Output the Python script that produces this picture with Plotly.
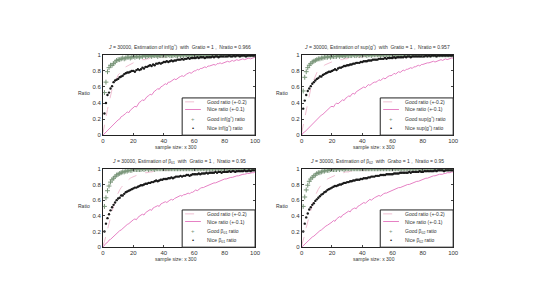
"""
plot.py
Four panels: proportion of good / nice estimates against sample size (x 300).
"""

import plotly.graph_objects as go

W, H = 550, 300

x_line = list(range(0, 101))
x_mark = list(range(1, 101))

x_ticks = [0, 20, 40, 60, 80, 100]
y_ticks = [0, 0.2, 0.4, 0.6, 0.8, 1]
y_tick_text = ["0", "0.2", "0.4", "0.6", "0.8", "1"]

titles = [
    "<i>J</i> = 30000, Estimation of inf(g<sup>^</sup>)  with  Gratio = 1 ,  Nratio = 0.966",
    "<i>J</i> = 30000, Estimation of sup(g<sup>^</sup>)  with  Gratio = 1 ,  Nratio = 0.957",
    "<i>J</i> = 30000, Estimation of β<sub>01</sub>  with  Gratio = 1 ,  Nratio = 0.95",
    "<i>J</i> = 30000, Estimation of β<sub>02</sub>  with  Grabo = 1 ,  Nratio = 0.95",
]
est_names = ["inf(g<sup>^</sup>)", "sup(g<sup>^</sup>)", "β<sub>01</sub>", "β<sub>02</sub>"]

# ---------- panel 1 : inf(g) ----------
good_line_1 = [
    0.02, 0.10, 0.22, 0.32, 0.42, 0.50, 0.57, 0.62, 0.67, 0.71,
    0.75, 0.77, 0.80, 0.81, 0.84, 0.85, 0.86, 0.88, 0.88, 0.89,
    0.90, 0.91, 0.91, 0.92, 0.93, 0.93, 0.94, 0.94, 0.94, 0.95,
    0.95, 0.96, 0.95, 0.96, 0.96, 0.97, 0.96, 0.97, 0.97, 0.97,
    0.97, 0.98, 0.97, 0.98, 0.98, 0.98, 0.98, 0.98, 0.99, 0.98,
    0.99, 0.98, 0.99, 0.99, 0.99, 0.99, 0.99, 0.99, 0.99, 0.99,
    0.99, 0.99, 1.00, 0.99, 0.99, 1.00, 0.99, 1.00, 1.00, 0.99,
    1.00, 1.00, 0.99, 1.00, 1.00, 1.00, 1.00, 0.99, 1.00, 1.00,
    1.00, 1.00, 1.00, 1.00, 1.00, 1.00, 1.00, 1.00, 1.00, 1.00,
    1.00, 1.00, 1.00, 1.00, 1.00, 1.00, 1.00, 1.00, 1.00, 1.00, 1.00,
]
nice_line_1 = [
    0.00, 0.02, 0.04, 0.05, 0.08, 0.09, 0.12, 0.13, 0.15, 0.18,
    0.19, 0.20, 0.23, 0.24, 0.25, 0.27, 0.29, 0.28, 0.31, 0.33,
    0.34, 0.36, 0.35, 0.38, 0.41, 0.42, 0.44, 0.43, 0.46, 0.48,
    0.49, 0.51, 0.50, 0.53, 0.55, 0.56, 0.58, 0.57, 0.60, 0.61,
    0.62, 0.64, 0.63, 0.66, 0.66, 0.67, 0.69, 0.70, 0.69, 0.71,
    0.72, 0.73, 0.74, 0.73, 0.75, 0.76, 0.77, 0.78, 0.77, 0.79,
    0.80, 0.80, 0.82, 0.81, 0.83, 0.83, 0.84, 0.85, 0.84, 0.86,
    0.86, 0.87, 0.87, 0.88, 0.87, 0.89, 0.89, 0.90, 0.89, 0.90,
    0.91, 0.91, 0.92, 0.91, 0.92, 0.93, 0.92, 0.93, 0.94, 0.93,
    0.94, 0.94, 0.95, 0.94, 0.95, 0.95, 0.96, 0.95, 0.96, 0.96, 0.97,
]
good_mark_1 = [
    0.53, 0.66, 0.79, 0.84, 0.87, 0.87, 0.89, 0.91, 0.93, 0.94,
    0.94, 0.95, 0.96, 0.95, 0.96, 0.97, 0.97, 0.96, 0.97, 0.98,
    0.97, 0.98, 0.98, 0.97, 0.98, 0.98, 0.99, 0.98, 0.98, 0.99,
    0.99, 0.98, 0.99, 0.99, 0.99, 0.98, 0.99, 0.99, 0.99, 0.99,
    0.99, 0.99, 1.00, 0.99, 0.99, 0.99, 1.00, 0.99, 0.99, 1.00,
    0.99, 1.00, 0.99, 1.00, 1.00, 0.99, 1.00, 1.00, 0.99, 1.00,
    1.00, 1.00, 0.99, 1.00, 1.00, 1.00, 1.00, 1.00, 0.99, 1.00,
    1.00, 1.00, 1.00, 1.00, 1.00, 1.00, 1.00, 1.00, 1.00, 1.00,
    1.00, 1.00, 1.00, 1.00, 1.00, 1.00, 1.00, 1.00, 1.00, 1.00,
    1.00, 1.00, 1.00, 1.00, 1.00, 1.00, 1.00, 1.00, 1.00, 1.00,
]
nice_mark_1 = [
    0.27, 0.40, 0.50, 0.53, 0.58, 0.61, 0.66, 0.68, 0.69, 0.70,
    0.72, 0.73, 0.74, 0.76, 0.77, 0.78, 0.78, 0.79, 0.80, 0.80,
    0.79, 0.81, 0.82, 0.81, 0.82, 0.84, 0.83, 0.85, 0.85, 0.86,
    0.87, 0.86, 0.88, 0.87, 0.89, 0.89, 0.90, 0.89, 0.90, 0.91,
    0.91, 0.92, 0.91, 0.92, 0.93, 0.92, 0.93, 0.93, 0.94, 0.94,
    0.94, 0.95, 0.94, 0.95, 0.95, 0.96, 0.95, 0.96, 0.96, 0.96,
    0.96, 0.97, 0.96, 0.97, 0.97, 0.97, 0.96, 0.97, 0.97, 0.97,
    0.97, 0.98, 0.97, 0.98, 0.98, 0.97, 0.98, 0.98, 0.98, 0.98,
    0.98, 0.98, 0.99, 0.98, 0.98, 0.99, 0.98, 0.99, 0.99, 0.98,
    0.99, 0.99, 0.99, 0.98, 0.99, 0.99, 0.99, 0.99, 0.99, 0.99,
]

# ---------- panel 2 : sup(g) ----------
good_line_2 = [
    0.03, 0.12, 0.24, 0.34, 0.43, 0.51, 0.58, 0.64, 0.69, 0.74,
    0.78, 0.80, 0.82, 0.84, 0.86, 0.87, 0.88, 0.89, 0.90, 0.90,
    0.91, 0.92, 0.92, 0.93, 0.93, 0.94, 0.94, 0.94, 0.95, 0.95,
    0.95, 0.96, 0.96, 0.96, 0.96, 0.97, 0.97, 0.97, 0.97, 0.97,
    0.97, 0.98, 0.98, 0.98, 0.98, 0.98, 0.98, 0.99, 0.98, 0.99,
    0.99, 0.99, 0.98, 0.99, 0.99, 0.99, 0.99, 0.99, 0.99, 0.99,
    0.99, 1.00, 0.99, 0.99, 1.00, 0.99, 1.00, 1.00, 0.99, 1.00,
    1.00, 1.00, 1.00, 0.99, 1.00, 1.00, 1.00, 1.00, 1.00, 1.00,
    1.00, 1.00, 1.00, 1.00, 1.00, 1.00, 1.00, 1.00, 1.00, 1.00,
    1.00, 1.00, 1.00, 1.00, 1.00, 1.00, 1.00, 1.00, 1.00, 1.00, 1.00,
]
nice_line_2 = [
    0.00, 0.03, 0.04, 0.06, 0.08, 0.10, 0.12, 0.14, 0.15, 0.18,
    0.20, 0.21, 0.23, 0.25, 0.26, 0.28, 0.30, 0.31, 0.33, 0.35,
    0.36, 0.35, 0.38, 0.40, 0.39, 0.41, 0.43, 0.44, 0.43, 0.46,
    0.47, 0.49, 0.48, 0.51, 0.52, 0.51, 0.54, 0.55, 0.56, 0.57,
    0.58, 0.60, 0.59, 0.61, 0.63, 0.62, 0.64, 0.65, 0.66, 0.66,
    0.67, 0.69, 0.68, 0.70, 0.71, 0.70, 0.72, 0.73, 0.74, 0.74,
    0.75, 0.77, 0.76, 0.78, 0.79, 0.78, 0.80, 0.81, 0.80, 0.82,
    0.82, 0.83, 0.84, 0.83, 0.85, 0.85, 0.86, 0.87, 0.86, 0.88,
    0.88, 0.89, 0.89, 0.90, 0.90, 0.91, 0.91, 0.92, 0.91, 0.92,
    0.93, 0.93, 0.94, 0.93, 0.94, 0.95, 0.94, 0.95, 0.95, 0.96, 0.96,
]
good_mark_2 = [
    0.55, 0.72, 0.79, 0.84, 0.87, 0.89, 0.91, 0.92, 0.93, 0.94,
    0.95, 0.95, 0.96, 0.96, 0.97, 0.97, 0.97, 0.98, 0.97, 0.98,
    0.98, 0.98, 0.98, 0.99, 0.98, 0.99, 0.99, 0.98, 0.99, 0.99,
    0.99, 0.99, 0.99, 1.00, 0.99, 0.99, 1.00, 0.99, 1.00, 0.99,
    1.00, 1.00, 0.99, 1.00, 1.00, 0.99, 1.00, 1.00, 1.00, 1.00,
    1.00, 0.99, 1.00, 1.00, 1.00, 1.00, 1.00, 1.00, 1.00, 1.00,
    1.00, 1.00, 1.00, 1.00, 1.00, 1.00, 1.00, 1.00, 1.00, 1.00,
    1.00, 1.00, 1.00, 1.00, 1.00, 1.00, 1.00, 1.00, 1.00, 1.00,
    1.00, 1.00, 1.00, 1.00, 1.00, 1.00, 1.00, 1.00, 1.00, 1.00,
    1.00, 1.00, 1.00, 1.00, 1.00, 1.00, 1.00, 1.00, 1.00, 1.00,
]
nice_mark_2 = [
    0.33, 0.43, 0.50, 0.55, 0.58, 0.61, 0.64, 0.66, 0.68, 0.70,
    0.71, 0.73, 0.73, 0.75, 0.76, 0.77, 0.78, 0.79, 0.79, 0.80,
    0.81, 0.82, 0.81, 0.83, 0.84, 0.84, 0.85, 0.86, 0.86, 0.87,
    0.87, 0.88, 0.88, 0.89, 0.89, 0.90, 0.90, 0.90, 0.91, 0.91,
    0.92, 0.92, 0.92, 0.93, 0.93, 0.93, 0.94, 0.94, 0.94, 0.94,
    0.95, 0.95, 0.95, 0.95, 0.96, 0.95, 0.96, 0.96, 0.96, 0.96,
    0.97, 0.96, 0.97, 0.97, 0.97, 0.97, 0.97, 0.98, 0.97, 0.98,
    0.98, 0.97, 0.98, 0.98, 0.98, 0.98, 0.98, 0.98, 0.98, 0.98,
    0.98, 0.99, 0.98, 0.99, 0.98, 0.99, 0.99, 0.99, 0.98, 0.99,
    0.99, 0.99, 0.99, 0.99, 0.99, 0.99, 0.99, 0.99, 0.99, 0.99,
]

# ---------- panel 3 : beta_01 ----------
good_line_3 = [
    0.02, 0.07, 0.15, 0.23, 0.31, 0.38, 0.46, 0.53, 0.60, 0.65,
    0.70, 0.73, 0.76, 0.79, 0.81, 0.83, 0.85, 0.86, 0.88, 0.89,
    0.90, 0.91, 0.92, 0.93, 0.93, 0.94, 0.94, 0.95, 0.95, 0.95,
    0.96, 0.96, 0.96, 0.97, 0.97, 0.97, 0.97, 0.97, 0.98, 0.98,
    0.98, 0.98, 0.98, 0.98, 0.98, 0.99, 0.98, 0.99, 0.99, 0.99,
    0.99, 0.99, 0.99, 0.99, 0.99, 0.99, 0.99, 0.99, 0.99, 0.99,
    0.99, 0.99, 1.00, 0.99, 0.99, 1.00, 0.99, 1.00, 1.00, 0.99,
    1.00, 1.00, 0.99, 1.00, 1.00, 1.00, 1.00, 1.00, 1.00, 1.00,
    1.00, 1.00, 1.00, 1.00, 1.00, 1.00, 1.00, 1.00, 1.00, 1.00,
    1.00, 1.00, 1.00, 1.00, 1.00, 1.00, 1.00, 1.00, 1.00, 1.00, 1.00,
]
nice_line_3 = [
    0.00, 0.03, 0.05, 0.06, 0.09, 0.10, 0.12, 0.14, 0.16, 0.18,
    0.20, 0.21, 0.22, 0.24, 0.26, 0.27, 0.29, 0.30, 0.32, 0.33,
    0.35, 0.36, 0.35, 0.38, 0.40, 0.41, 0.42, 0.41, 0.44, 0.45,
    0.46, 0.48, 0.47, 0.50, 0.51, 0.52, 0.53, 0.52, 0.55, 0.56,
    0.57, 0.58, 0.57, 0.59, 0.60, 0.61, 0.60, 0.62, 0.63, 0.63,
    0.64, 0.66, 0.65, 0.67, 0.67, 0.68, 0.69, 0.68, 0.70, 0.70,
    0.71, 0.73, 0.72, 0.74, 0.75, 0.76, 0.76, 0.77, 0.78, 0.79,
    0.80, 0.80, 0.81, 0.82, 0.82, 0.83, 0.84, 0.85, 0.85, 0.86,
    0.87, 0.87, 0.88, 0.88, 0.89, 0.89, 0.90, 0.90, 0.91, 0.91,
    0.92, 0.92, 0.93, 0.93, 0.94, 0.94, 0.94, 0.95, 0.95, 0.95, 0.96,
]
good_mark_3 = [
    0.52, 0.63, 0.72, 0.78, 0.83, 0.86, 0.88, 0.90, 0.92, 0.93,
    0.94, 0.95, 0.96, 0.96, 0.97, 0.97, 0.98, 0.98, 0.98, 0.99,
    0.99, 0.99, 0.99, 0.99, 0.99, 1.00, 0.99, 1.00, 1.00, 0.99,
    1.00, 1.00, 1.00, 0.99, 1.00, 1.00, 1.00, 1.00, 1.00, 1.00,
    1.00, 1.00, 1.00, 1.00, 1.00, 1.00, 1.00, 1.00, 1.00, 1.00,
    1.00, 1.00, 1.00, 1.00, 1.00, 1.00, 1.00, 1.00, 1.00, 1.00,
    1.00, 1.00, 1.00, 1.00, 1.00, 1.00, 1.00, 1.00, 1.00, 1.00,
    1.00, 1.00, 1.00, 1.00, 1.00, 1.00, 1.00, 1.00, 1.00, 1.00,
    1.00, 1.00, 1.00, 1.00, 1.00, 1.00, 1.00, 1.00, 1.00, 1.00,
    1.00, 1.00, 1.00, 1.00, 1.00, 1.00, 1.00, 1.00, 1.00, 1.00,
]
nice_mark_3 = [
    0.20, 0.30, 0.37, 0.42, 0.47, 0.51, 0.54, 0.57, 0.60, 0.62,
    0.63, 0.66, 0.66, 0.68, 0.70, 0.71, 0.72, 0.73, 0.74, 0.75,
    0.76, 0.76, 0.77, 0.78, 0.79, 0.79, 0.80, 0.81, 0.81, 0.82,
    0.82, 0.83, 0.83, 0.84, 0.85, 0.84, 0.85, 0.86, 0.86, 0.87,
    0.87, 0.87, 0.88, 0.88, 0.89, 0.88, 0.89, 0.90, 0.90, 0.90,
    0.91, 0.90, 0.91, 0.91, 0.92, 0.92, 0.91, 0.92, 0.93, 0.93,
    0.93, 0.93, 0.94, 0.93, 0.94, 0.94, 0.94, 0.95, 0.94, 0.95,
    0.95, 0.95, 0.95, 0.96, 0.95, 0.96, 0.96, 0.95, 0.96, 0.96,
    0.96, 0.96, 0.97, 0.96, 0.97, 0.97, 0.96, 0.97, 0.97, 0.97,
    0.97, 0.97, 0.98, 0.97, 0.97, 0.98, 0.97, 0.98, 0.98, 0.98,
]

# ---------- panel 4 : beta_02 ----------
good_line_4 = [
    0.02, 0.08, 0.16, 0.25, 0.33, 0.41, 0.48, 0.55, 0.61, 0.66,
    0.71, 0.74, 0.77, 0.80, 0.82, 0.84, 0.86, 0.87, 0.88, 0.89,
    0.90, 0.91, 0.92, 0.93, 0.94, 0.94, 0.95, 0.95, 0.95, 0.96,
    0.96, 0.96, 0.97, 0.97, 0.97, 0.97, 0.98, 0.98, 0.98, 0.98,
    0.98, 0.98, 0.98, 0.99, 0.98, 0.99, 0.99, 0.99, 0.99, 0.99,
    0.99, 0.99, 0.99, 0.99, 0.99, 0.99, 1.00, 0.99, 0.99, 1.00,
    0.99, 1.00, 1.00, 0.99, 1.00, 1.00, 1.00, 0.99, 1.00, 1.00,
    1.00, 1.00, 1.00, 1.00, 1.00, 1.00, 1.00, 1.00, 1.00, 1.00,
    1.00, 1.00, 1.00, 1.00, 1.00, 1.00, 1.00, 1.00, 1.00, 1.00,
    1.00, 1.00, 1.00, 1.00, 1.00, 1.00, 1.00, 1.00, 1.00, 1.00, 1.00,
]
nice_line_4 = [
    0.00, 0.02, 0.04, 0.06, 0.07, 0.09, 0.11, 0.13, 0.14, 0.16,
    0.18, 0.19, 0.21, 0.22, 0.24, 0.25, 0.27, 0.28, 0.29, 0.31,
    0.32, 0.34, 0.33, 0.36, 0.37, 0.39, 0.38, 0.41, 0.42, 0.43,
    0.44, 0.46, 0.45, 0.48, 0.49, 0.50, 0.49, 0.52, 0.53, 0.54,
    0.55, 0.57, 0.56, 0.58, 0.59, 0.61, 0.60, 0.62, 0.63, 0.64,
    0.65, 0.66, 0.65, 0.67, 0.68, 0.69, 0.69, 0.70, 0.71, 0.72,
    0.73, 0.73, 0.74, 0.75, 0.76, 0.76, 0.77, 0.78, 0.78, 0.79,
    0.80, 0.80, 0.81, 0.82, 0.82, 0.83, 0.84, 0.84, 0.85, 0.86,
    0.87, 0.87, 0.88, 0.88, 0.89, 0.90, 0.90, 0.91, 0.91, 0.92,
    0.92, 0.93, 0.93, 0.93, 0.94, 0.94, 0.95, 0.95, 0.95, 0.96, 0.96,
]
good_mark_4 = [
    0.52, 0.64, 0.73, 0.79, 0.84, 0.87, 0.89, 0.91, 0.92, 0.94,
    0.95, 0.95, 0.96, 0.97, 0.97, 0.98, 0.98, 0.98, 0.99, 0.99,
    0.99, 0.99, 0.99, 1.00, 0.99, 1.00, 1.00, 0.99, 1.00, 1.00,
    1.00, 1.00, 1.00, 1.00, 1.00, 1.00, 1.00, 1.00, 1.00, 1.00,
    1.00, 1.00, 1.00, 1.00, 1.00, 1.00, 1.00, 1.00, 1.00, 1.00,
    1.00, 1.00, 1.00, 1.00, 1.00, 1.00, 1.00, 1.00, 1.00, 1.00,
    1.00, 1.00, 1.00, 1.00, 1.00, 1.00, 1.00, 1.00, 1.00, 1.00,
    1.00, 1.00, 1.00, 1.00, 1.00, 1.00, 1.00, 1.00, 1.00, 1.00,
    1.00, 1.00, 1.00, 1.00, 1.00, 1.00, 1.00, 1.00, 1.00, 1.00,
    1.00, 1.00, 1.00, 1.00, 1.00, 1.00, 1.00, 1.00, 1.00, 1.00,
]
nice_mark_4 = [
    0.20, 0.30, 0.38, 0.43, 0.48, 0.51, 0.54, 0.56, 0.59, 0.61,
    0.63, 0.65, 0.67, 0.68, 0.70, 0.71, 0.73, 0.74, 0.75, 0.76,
    0.77, 0.78, 0.78, 0.79, 0.80, 0.80, 0.81, 0.82, 0.82, 0.83,
    0.83, 0.84, 0.84, 0.85, 0.85, 0.86, 0.86, 0.86, 0.87, 0.87,
    0.88, 0.88, 0.88, 0.89, 0.89, 0.90, 0.90, 0.90, 0.91, 0.91,
    0.91, 0.92, 0.92, 0.92, 0.92, 0.93, 0.93, 0.93, 0.93, 0.93,
    0.94, 0.94, 0.94, 0.94, 0.95, 0.95, 0.95, 0.95, 0.95, 0.95,
    0.96, 0.95, 0.96, 0.96, 0.96, 0.96, 0.96, 0.97, 0.96, 0.96,
    0.97, 0.97, 0.97, 0.97, 0.97, 0.97, 0.97, 0.98, 0.97, 0.98,
    0.98, 0.98, 0.98, 0.97, 0.98, 0.98, 0.98, 0.98, 0.98, 0.98,
]

panels_data = [
    (good_line_1, nice_line_1, good_mark_1, nice_mark_1),
    (good_line_2, nice_line_2, good_mark_2, nice_mark_2),
    (good_line_3, nice_line_3, good_mark_3, nice_mark_3),
    (good_line_4, nice_line_4, good_mark_4, nice_mark_4),
]

# pixel box of each axes on the page: left, right, top, bottom
boxes = [
    (102.3, 256.7, 52.7, 134.7),
    (304.0, 457.7, 52.7, 134.7),
    (102.3, 256.7, 169.0, 249.0),
    (304.0, 457.7, 169.0, 249.0),
]

FONT = "Arial, Liberation Sans, sans-serif"
TXT = "#333333"
GOOD_LINE = "#f0bfd2"
NICE_LINE = "#e681c4"
GOOD_MK = "#7a967a"
NICE_MK = "#1a1a1a"
PAGE_OFF = 8  # default body margin of the html page


def px(x):
    return (x - PAGE_OFF) / W


def py(y):
    return 1 - (y - PAGE_OFF) / H


def note(x, y, text, size, color=TXT, xanchor="center"):
    return dict(x=px(x), y=py(y), text=text, showarrow=False, xref="paper",
                yref="paper", xanchor=xanchor, yanchor="middle",
                font=dict(size=size, color=color, family=FONT))


fig = go.Figure()
shapes = []
annotations = []

for i, (gl, nl, gm, nm) in enumerate(panels_data):
    k = "" if i == 0 else str(i + 1)
    xa, ya = "x" + k, "y" + k
    left, right, top, bottom = boxes[i]

    fig.add_trace(go.Scatter(x=x_line, y=gl, mode="lines", xaxis=xa, yaxis=ya,
                             line=dict(color=GOOD_LINE, width=1, dash="dash")))
    fig.add_trace(go.Scatter(x=x_line, y=nl, mode="lines", xaxis=xa, yaxis=ya,
                             line=dict(color=NICE_LINE, width=1)))
    fig.add_trace(go.Scatter(x=x_mark, y=gm, mode="markers", xaxis=xa, yaxis=ya,
                             marker=dict(symbol="cross-thin-open", size=3.5, color=GOOD_MK,
                                         line=dict(color=GOOD_MK, width=1))))
    fig.add_trace(go.Scatter(x=x_mark, y=nm, mode="markers", xaxis=xa, yaxis=ya,
                             marker=dict(symbol="circle", size=2.4, color=NICE_MK)))

    fig.layout["xaxis" + k] = dict(
        domain=[px(left), px(right)], anchor=ya, range=[0, 100],
        tickvals=x_ticks, ticks="inside", ticklen=2, showline=True,
        mirror="ticks", linecolor="#222", linewidth=1, showgrid=False,
        zeroline=False, tickfont=dict(size=6, color=TXT, family=FONT),
    )
    fig.layout["yaxis" + k] = dict(
        domain=[py(bottom), py(top)], anchor=xa, range=[0, 1],
        tickvals=y_ticks, ticktext=y_tick_text, ticks="inside", ticklen=2,
        showline=True, mirror="ticks", linecolor="#222", linewidth=1,
        showgrid=False, zeroline=False,
        tickfont=dict(size=6, color=TXT, family=FONT),
    )

    cx = (left + right) / 2
    annotations.append(note(cx, top - 7.5, titles[i], 5))
    annotations.append(note(cx - 3, bottom + 12.5, "sample size: x 300", 5))
    annotations.append(note(left - 19.5, (top + bottom) / 2 - 2, "Ratio", 5))

    # legend box drawn by hand (plotly rows are too tall at this size)
    lx0, lx1 = right - 74, right
    ly0, ly1 = bottom - 38, bottom
    shapes.append(dict(type="rect", xref="paper", yref="paper", layer="above",
                       x0=px(lx0), x1=px(lx1), y0=py(ly1), y1=py(ly0),
                       line=dict(color="#222", width=1), fillcolor="white"))
    rows = [ly0 + 4, ly0 + 11.8, ly0 + 21.5, ly0 + 31]
    shapes.append(dict(type="line", xref="paper", yref="paper", layer="above",
                       x0=px(lx0 + 3), x1=px(lx0 + 19), y0=py(rows[0]), y1=py(rows[0]),
                       line=dict(color=GOOD_LINE, width=1, dash="dash")))
    shapes.append(dict(type="line", xref="paper", yref="paper", layer="above",
                       x0=px(lx0 + 3), x1=px(lx0 + 19), y0=py(rows[1]), y1=py(rows[1]),
                       line=dict(color=NICE_LINE, width=1)))
    annotations.append(note(lx0 + 11, rows[2], "+", 6, GOOD_MK))
    annotations.append(note(lx0 + 11, rows[3], "•", 6, NICE_MK))
    labels = ["Good ratio (+-0.2)", "Nice ratio (+-0.1)",
              "Good " + est_names[i] + " ratio", "Nice " + est_names[i] + " ratio"]
    for lab, ry in zip(labels, rows):
        annotations.append(note(lx0 + 23, ry, lab, 5, xanchor="left"))

fig.update_layout(
    width=W, height=H,
    margin=dict(l=0, r=0, t=0, b=0),
    paper_bgcolor="white", plot_bgcolor="white",
    showlegend=False,
    shapes=shapes,
    annotations=annotations,
)

fig.write_html("out.html")
